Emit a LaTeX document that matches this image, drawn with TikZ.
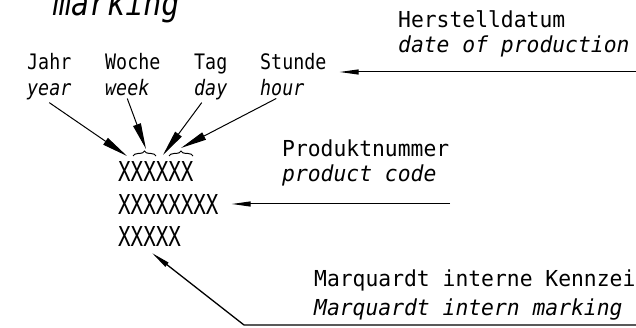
\documentclass[tikz,border=0pt]{standalone}
\usepackage{fontspec}
\usetikzlibrary{arrows.meta,decorations.pathreplacing}
\newfontfamily\labelfam[FakeStretch=0.86]{DejaVu Sans Mono}
\newfontfamily\notefam[FakeStretch=0.97]{DejaVu Sans Mono}
\newfontfamily\xfam[FakeStretch=0.76]{DejaVu Sans Mono}
\tikzset{
	lbl/.style={anchor=base west, inner sep=0pt, font=\labelfam\fontsize{21.3}{26}\selectfont},
	note/.style={anchor=base west, inner sep=0pt, font=\notefam\fontsize{22}{26}\selectfont},
	code/.style={anchor=base west, inner sep=0pt, font=\xfam\fontsize{27.4}{32}\selectfont},
	bigtip/.style={line width=1pt, -{Triangle[length=26pt,width=8pt]}},
	smalltip/.style={line width=1pt, -{Triangle[length=19pt,width=5pt]}},
	klammer/.style={line width=1pt, decorate, decoration={brace,amplitude=5pt}}
}
\begin{document}
\begin{tikzpicture}[x=1pt,y=-1pt]
	\useasboundingbox (0,0) rectangle (636,328);
	% heading, cut at the top
	\node[lbl, font=\labelfam\itshape\fontsize{34.8}{40}\selectfont] (marking) at (53,16) {marking};
	% date labels
	\node[lbl] (jahr) at (27,70) {Jahr};
	\node[lbl] (year) at (27,96) {\itshape year};
	\node[lbl] (woche) at (105,70) {Woche};
	\node[lbl] (week) at (105,96) {\itshape week};
	\node[lbl] (tag) at (194,70) {Tag};
	\node[lbl] (day) at (194,96) {\itshape day};
	\node[lbl] (stunde) at (260,70) {Stunde};
	\node[lbl] (hour) at (260,96) {\itshape hour};
	% marking rows
	\node[code] (rowa) at (118,182) {XXXXXX};
	\node[code] (rowb) at (118,215) {XXXXXXXX};
	\node[code] (rowc) at (118,247) {XXXXX};
	% right hand notes
	\node[note] (herst) at (398,28) {Herstelldatum};
	\node[note] (dateprod) at (398,53) {\itshape date of production};
	\node[note] (prodnr) at (282,157) {Produktnummer};
	\node[note] (prodcode) at (282,182) {\itshape product code};
	\node[note] (mint) at (314,287) {Marquardt interne Kennzeichnung};
	\node[note] (mmark) at (314,315) {\itshape Marquardt intern marking};
	% braces over week and hour digits
	\draw[klammer] ([shift={(15,-26)}]rowa.base west) -- ([shift={(38,-26)}]rowa.base west);
	\draw[klammer] ([shift={(51,-26)}]rowa.base west) -- ([shift={(75,-26)}]rowa.base west);
	\coordinate (tjahr) at ([shift={(9,-26)}]rowa.base west);
	\coordinate (twoche) at ([shift={(28,-33)}]rowa.base west);
	\coordinate (ttag) at ([shift={(45,-27)}]rowa.base west);
	\coordinate (tstunde) at ([shift={(63,-34)}]rowa.base west);
	\draw[bigtip] ([yshift=-2pt]year.south) -- (tjahr);
	\draw[bigtip] ([yshift=-2pt]week.south) -- (twoche);
	\draw[bigtip] ([shift={(-9pt,-2pt)}]day.south) -- (ttag);
	\draw[bigtip] ([shift={(-6pt,-2pt)}]hour.south) -- (tstunde);
	% leader lines
	\coordinate (hdr) at (640,72);
	\coordinate (pcr) at (450,204);
	\coordinate (mkr) at (640,325);
	\coordinate (mkk) at (244,325);
	\draw[smalltip] (hdr) -- ([shift={(13,2)}]stunde.base east);
	\draw[smalltip] (pcr) -- ([shift={(13,-11)}]rowb.base east);
	\draw[smalltip, line width=1.3pt] (mkr) -- (mkk) -- ([shift={(34,6)}]rowc.base west);
\end{tikzpicture}
\end{document}
